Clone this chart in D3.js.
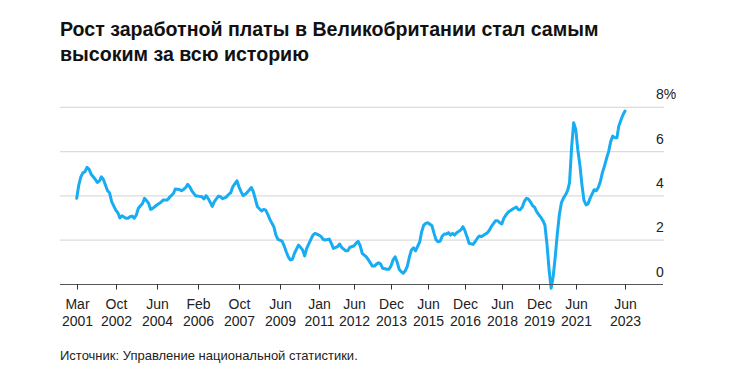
<!DOCTYPE html>
<html lang="ru">
<head>
    <meta charset="UTF-8">
    <title>Рост заработной платы в Великобритании</title>
    <script src="https://d3js.org/d3.v7.min.js"></script>
    <style>
        body { margin: 0; background: #fff; }
        svg { font-family: Arial, "Liberation Sans", sans-serif; }
        .title { font-size: 19.6px; font-weight: bold; fill: #111; }
        .tick-label { font-size: 14px; fill: #222; }
        .source { font-size: 13px; fill: #222; }
    </style>
</head>
<body>
    <svg width="733" height="384"></svg>

    <script>
        // data: regular pay growth, 3m avg, % y/y
        const months = [
            "2001-03","2001-04","2001-05","2001-06","2001-07","2001-08","2001-09","2001-10","2001-12",
            "2002-01","2002-02","2002-03","2002-04","2002-05","2002-06","2002-07","2002-08","2002-10","2002-11","2002-12",
            "2003-01","2003-03","2003-04","2003-05","2003-06","2003-07","2003-08","2003-09","2003-11","2003-12",
            "2004-01","2004-02","2004-03","2004-04","2004-06","2004-08","2004-09","2004-11","2004-12",
            "2005-02","2005-03","2005-05","2005-06","2005-07","2005-08","2005-09","2005-10","2005-11",
            "2006-01","2006-02","2006-04","2006-05","2006-06","2006-07","2006-09","2006-10","2006-12",
            "2007-01","2007-02","2007-04","2007-05","2007-06","2007-07","2007-09","2007-10","2007-11","2007-12",
            "2008-01","2008-02","2008-04","2008-05","2008-06","2008-07","2008-09","2008-10","2008-11","2008-12",
            "2009-01","2009-03","2009-04","2009-05","2009-07","2009-08","2009-09","2009-10","2009-11","2009-12",
            "2010-01","2010-03","2010-04","2010-05","2010-06","2010-07","2010-09","2010-10","2010-11",
            "2011-01","2011-02","2011-03","2011-04","2011-06","2011-07","2011-08","2011-10","2011-11","2011-12",
            "2012-02","2012-03","2012-04","2012-06","2012-07","2012-08","2012-09","2012-10","2012-12",
            "2013-01","2013-03","2013-04","2013-05","2013-06","2013-07","2013-08","2013-10","2013-11","2013-12",
            "2014-01","2014-02","2014-03","2014-04","2014-05","2014-06","2014-07","2014-08","2014-09","2014-10","2014-11","2014-12",
            "2015-02","2015-03","2015-04","2015-05","2015-06","2015-08","2015-09","2015-10","2015-11","2015-12",
            "2016-01","2016-02","2016-03","2016-04","2016-05","2016-06","2016-07","2016-08","2016-10","2016-11","2016-12",
            "2017-01","2017-02","2017-04","2017-05","2017-06","2017-07","2017-08","2017-10","2017-11","2017-12",
            "2018-01","2018-03","2018-04","2018-05","2018-06","2018-07","2018-08","2018-09","2018-11","2018-12",
            "2019-01","2019-02","2019-03","2019-04","2019-05","2019-06","2019-07","2019-08","2019-09","2019-10","2019-11","2019-12",
            "2020-01","2020-02","2020-03","2020-04","2020-05","2020-06","2020-07","2020-08","2020-09","2020-10","2020-11","2020-12",
            "2021-01","2021-02","2021-03","2021-04","2021-05","2021-06","2021-07","2021-08","2021-09","2021-10","2021-11","2021-12",
            "2022-01","2022-02","2022-03","2022-04","2022-05","2022-06","2022-07","2022-08","2022-09","2022-10","2022-11","2022-12",
            "2023-01","2023-02","2023-03","2023-04","2023-05","2023-06"
        ];
        const wageGrowth = [
            3.89,4.49,4.86,5.04,5.09,5.29,5.20,4.98,4.75,
            4.61,4.67,4.86,4.74,4.49,4.23,4.14,3.74,3.36,3.24,3.01,
            3.10,2.99,2.99,3.06,3.09,2.99,3.13,3.44,3.66,3.89,
            3.78,3.66,3.39,3.44,3.59,3.71,3.81,3.81,3.92,
            4.11,4.31,4.29,4.23,4.29,4.37,4.52,4.41,4.23,
            3.99,3.99,3.96,3.86,4.01,3.89,3.53,3.74,3.99,
            3.96,3.87,3.96,4.07,4.14,4.41,4.68,4.41,4.19,4.01,
            4.07,4.16,4.38,4.19,3.84,3.51,3.32,3.39,3.36,3.17,
            2.94,2.61,2.23,2.04,1.96,1.74,1.48,1.25,1.11,1.14,
            1.41,1.78,1.68,1.56,1.29,1.63,2.04,2.23,2.31,
            2.23,2.16,2.04,2.01,2.05,1.86,1.63,1.71,1.83,1.68,
            1.52,1.52,1.68,1.74,1.86,1.95,1.75,1.41,1.25,
            1.11,0.83,0.83,0.92,0.98,0.92,0.73,0.69,0.69,0.83,
            1.11,1.25,1.03,0.69,0.58,0.51,0.62,0.83,1.25,1.56,1.66,1.52,
            1.93,2.38,2.68,2.76,2.79,2.65,2.31,2.01,1.93,1.96,
            2.19,2.28,2.28,2.34,2.23,2.31,2.23,2.34,2.46,2.61,2.43,
            2.16,1.86,1.81,1.93,2.08,2.19,2.16,2.28,2.34,2.46,
            2.64,2.88,2.88,2.79,2.73,2.99,3.13,3.26,3.39,3.44,
            3.50,3.38,3.38,3.50,3.75,3.89,3.85,3.72,3.56,3.48,3.28,3.15,
            3.03,2.88,2.68,1.80,0.70,-0.17,0.35,1.25,2.30,3.15,3.70,3.90,
            4.05,4.25,4.60,6.20,7.30,7.00,6.10,5.40,4.50,3.80,3.59,3.65,
            3.90,4.10,4.28,4.23,4.38,4.65,5.05,5.35,5.70,6.00,6.45,6.70,
            6.63,6.62,7.15,7.42,7.65,7.83
        ];

        // x axis ticks
        const tickMonths = ["2001-03","2002-10","2004-06","2006-02","2007-10","2009-06","2011-01",
                            "2012-06","2013-12","2015-06","2016-12","2018-06","2019-12","2021-06","2023-06"];
        const yTicks = [0, 2, 4, 6, 8];

        const parse = d3.timeParse("%Y-%m");
        const data = months.map((m, i) => ({ date: parse(m), value: wageGrowth[i] }));

        const svg = d3.select("svg");

        // scales
        const x = d3.scaleTime()
            .domain([parse("2001-03"), parse("2023-06")])
            .range([76.7, 625]);
        const y = d3.scaleLinear()
            .domain([0, 8])
            .range([284.5, 107.3]);

        const left = 60, right = 664;

        // title
        const title = svg.append("text").attr("class", "title").attr("x", 60);
        title.append("tspan").attr("x", 60).attr("y", 36)
            .text("Рост заработной платы в Великобритании стал самым");
        title.append("tspan").attr("x", 60).attr("y", 61)
            .text("высоким за всю историю");

        // gridlines
        svg.append("g")
            .selectAll("line")
            .data(yTicks.filter(d => d > 0))
            .join("line")
            .attr("x1", left).attr("x2", right)
            .attr("y1", d => y(d)).attr("y2", d => y(d))
            .attr("stroke", "#dcdcdc")
            .attr("stroke-width", 1.3);

        // y labels (above gridlines, on the right)
        svg.append("g")
            .selectAll("text")
            .data(yTicks)
            .join("text")
            .attr("class", "tick-label")
            .attr("x", 656)
            .attr("y", d => y(d) - 8)
            .text(d => d === 8 ? "8%" : d);

        // line
        const line = d3.line()
            .x(d => x(d.date))
            .y(d => y(d.value));

        svg.append("path")
            .datum(data)
            .attr("fill", "none")
            .attr("stroke", "#18acf2")
            .attr("stroke-width", 3)
            .attr("stroke-linejoin", "round")
            .attr("stroke-linecap", "round")
            .attr("d", line);

        // x axis line + ticks
        svg.append("line")
            .attr("x1", left).attr("x2", right - 1)
            .attr("y1", y(0)).attr("y2", y(0))
            .attr("stroke", "#555")
            .attr("stroke-width", 1.2);

        const xt = svg.append("g")
            .selectAll("g")
            .data(tickMonths.map(parse))
            .join("g")
            .attr("transform", d => `translate(${Math.round(x(d)) + 0.5},${y(0)})`);

        xt.append("line")
            .attr("y1", 0).attr("y2", 5)
            .attr("stroke", "#333");

        xt.append("text")
            .attr("class", "tick-label")
            .attr("text-anchor", "middle")
            .attr("y", 24.5)
            .text(d3.timeFormat("%b"));

        xt.append("text")
            .attr("class", "tick-label")
            .attr("text-anchor", "middle")
            .attr("y", 41.5)
            .text(d3.timeFormat("%Y"));

        // source
        svg.append("text")
            .attr("class", "source")
            .attr("x", 60)
            .attr("y", 360)
            .text("Источник: Управление национальной статистики.");
    </script>
</body>
</html>
